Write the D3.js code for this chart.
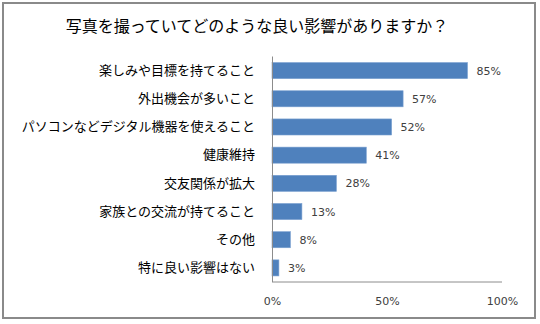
<!DOCTYPE html>
<html><head><meta charset="utf-8">
<script src="https://cdn.jsdelivr.net/npm/d3@7"></script>
<style>body{margin:0;background:#fff}</style>
</head><body>
<svg id="c" width="540" height="324"></svg>
<script>
const title = "写真を撮っていてどのような良い影響がありますか？";
const categories = ["楽しみや目標を持てること","外出機会が多いこと","パソコンなどデジタル機器を使えること","健康維持","交友関係が拡大","家族との交流が持てること","その他","特に良い影響はない"];
const values = [85,57,52,41,28,13,8,3];
const ticks = [0,50,100];

const svg = d3.select("#c");
svg.append("rect").attr("x",3).attr("y",3).attr("width",532).attr("height",315)
  .attr("fill","#fff").attr("stroke","#8a8a8a").attr("stroke-width",2);

svg.append("text").attr("x",257).attr("y",32).attr("text-anchor","middle")
  .attr("font-family","Noto Sans CJK JP").attr("font-size",16).attr("fill","#000").text(title);

const x = d3.scaleLinear().domain([0,100]).range([272,502]);
const y = d3.scaleBand().domain(categories).range([56.5,282]).paddingInner(0.43).paddingOuter(0.215);

svg.append("g").selectAll("rect").data(values).join("rect")
  .attr("x",x(0)).attr("y",(d,i)=>y(categories[i]))
  .attr("width",d=>x(d)-x(0)).attr("height",y.bandwidth())
  .attr("fill","#4F81BD").attr("stroke","#7aa0d0").attr("stroke-width",0.6);

svg.append("g").selectAll("text").data(values).join("text")
  .attr("x",d=>x(d)+9).attr("y",(d,i)=>y(categories[i])+y.bandwidth()/2+4)
  .attr("font-family","DejaVu Sans").attr("font-size",11).attr("fill","#404040")
  .text(d=>d+"%");

// y axis
const yAxis = svg.append("g").attr("transform",`translate(${x(0)},0)`)
  .call(d3.axisLeft(y).tickSize(0).tickPadding(17));
yAxis.select(".domain").attr("stroke","#8c8c8c").attr("d",`M0.5,56.5V282`);
yAxis.selectAll("text").attr("font-family","Noto Sans CJK JP").attr("font-size",13).attr("fill","#000");

// bottom line
svg.append("line").attr("x1",x(0)).attr("x2",x(100)).attr("y1",282).attr("y2",282)
  .attr("stroke","#8c8c8c").attr("stroke-width",1);

const xAxis = svg.append("g").attr("transform","translate(0,282)")
  .call(d3.axisBottom(x).tickValues(ticks).tickFormat(d=>d+"%").tickSize(0).tickPadding(15));
xAxis.select(".domain").remove();
xAxis.selectAll("text").attr("font-family","DejaVu Sans").attr("font-size",11).attr("fill","#404040");
</script>
</body></html>
